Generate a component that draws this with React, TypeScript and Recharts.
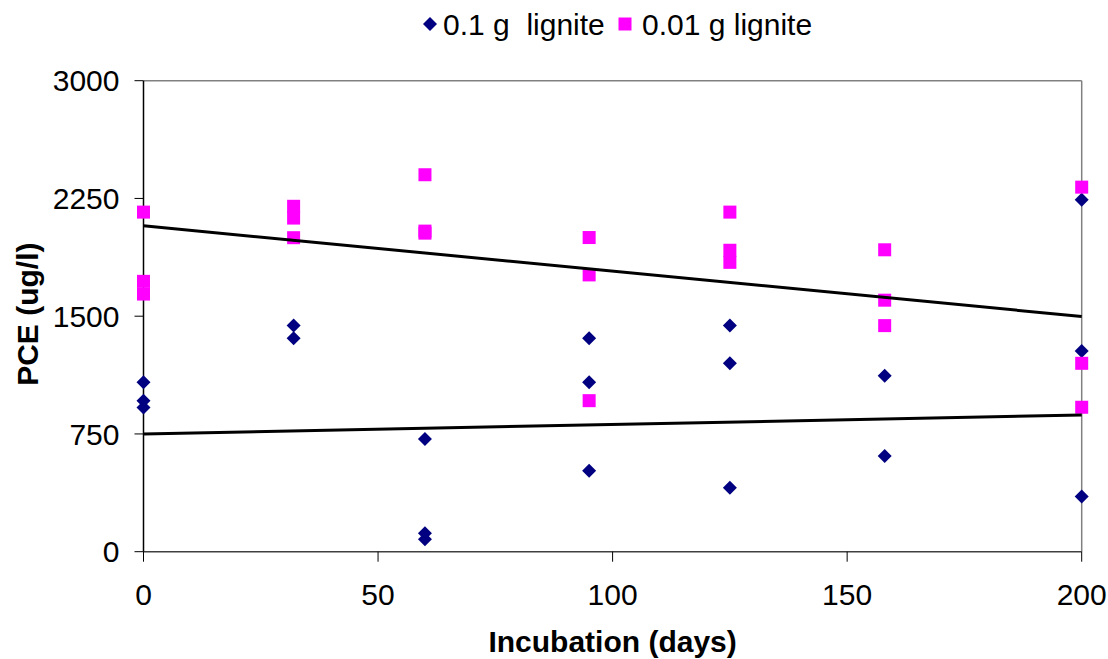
import React from "react";
import { ScatterChart, Scatter, XAxis, YAxis, ReferenceLine, Label } from "recharts";

// 0.1 g lignite
const days1 = [0, 0, 0, 32, 32, 60, 60, 60, 95, 95, 95, 125, 125, 125, 158, 158, 200, 200, 200];
const pce1 = [1080, 962, 918, 1440, 1360, 718, 117, 79, 1360, 1080, 516, 1440, 1200, 408, 1120, 610, 2241, 1279, 351];

// 0.01 g lignite
const days2 = [0, 0, 0, 32, 32, 32, 60, 60, 60, 95, 95, 95, 125, 125, 125, 158, 158, 158, 200, 200, 200];
const pce2 = [2163, 1722, 1641, 2200, 2125, 2000, 2401, 2042, 2029, 2001, 1763, 962, 2163, 1920, 1843, 1923, 1602, 1440, 2322, 1200, 920];

// linear trend lines (end points)
const trendDays = [0, 200];
const trend1 = [750, 871];
const trend2 = [2076, 1498];

const xTicks = [0, 50, 100, 150, 200];
const yTicks = [0, 750, 1500, 2250, 3000];

const NAVY = "#000080";
const PINK = "#FF00FF";
const FONT = "'Liberation Sans', Arial, sans-serif";

const toPoints = (xs: number[], ys: number[]) => xs.map((x, i) => ({ day: x, pce: ys[i] }));

const Diamond = (props: any) => {
    const { cx, cy } = props;
    const r = 7;
    return <polygon points={`${cx},${cy - r} ${cx + r},${cy} ${cx},${cy + r} ${cx - r},${cy}`} fill={NAVY} />;
};

const Square = (props: any) => {
    const { cx, cy } = props;
    return <rect x={cx - 6.5} y={cy - 6.5} width={13} height={13} fill={PINK} />;
};

const NoDot = () => <g />;

export default function App() {
    return (
        <div style={{ position: "relative", width: 1108, height: 659, fontFamily: FONT }}>
            <style>{`body { margin: 0; overflow: hidden; }`}</style>
            <svg width={1108} height={60} style={{ position: "absolute", left: 0, top: 0 }}>
                <polygon points="423,24 430,17 437,24 430,31" fill={NAVY} />
                <text x={443} y={35} fontSize={30} fontFamily={FONT} fill="#000" style={{ whiteSpace: "pre" }}>
                    {"0.1 g  lignite"}
                </text>
                <rect x={618.5} y={17.5} width={13} height={13} fill={PINK} />
                <text x={642} y={35} fontSize={30} fontFamily={FONT} fill="#000">
                    0.01 g lignite
                </text>
            </svg>
            <ScatterChart width={1108} height={659} margin={{ top: 80.7, right: 26.3, bottom: 0, left: 0 }}>
                <XAxis
                    type="number"
                    dataKey="day"
                    domain={[0, 200]}
                    ticks={xTicks}
                    height={107.3}
                    tickSize={10}
                    tickMargin={22}
                    axisLine={{ stroke: "#404040", strokeWidth: 1.5 }}
                    tickLine={{ stroke: "#000" }}
                    tick={{ fill: "#000", fontSize: 30, fontFamily: FONT }}
                >
                    <Label
                        content={(p: any) => {
                            const vb = p.viewBox;
                            return (
                                <text x={vb.x + vb.width / 2} y={vb.y + vb.height - 7} textAnchor="middle" fontSize={30} fontWeight="bold" fontFamily={FONT} fill="#000">
                                    Incubation (days)
                                </text>
                            );
                        }}
                    />
                </XAxis>
                <YAxis
                    type="number"
                    dataKey="pce"
                    domain={[0, 3000]}
                    ticks={yTicks}
                    width={143.5}
                    tickSize={9}
                    tickMargin={15}
                    axisLine={{ stroke: "#000", strokeWidth: 1.5 }}
                    tickLine={{ stroke: "#000" }}
                    tick={{ fill: "#000", fontSize: 30, fontFamily: FONT }}
                >
                    <Label
                        content={(p: any) => {
                            const vb = p.viewBox;
                            const cx = vb.x + 28;
                            const cy = vb.y + vb.height / 2 - 2;
                            return (
                                <text x={cx} y={cy} transform={`rotate(-90, ${cx}, ${cy})`} textAnchor="middle" dominantBaseline="central" fontSize={30} fontWeight="bold" fontFamily={FONT} fill="#000">
                                    PCE (ug/l)
                                </text>
                            );
                        }}
                    />
                </YAxis>
                <ReferenceLine y={3000} stroke="#808080" strokeWidth={1.5} />
                <ReferenceLine x={200} stroke="#808080" strokeWidth={1.5} />
                <Scatter name="0.1 g  lignite" data={toPoints(days1, pce1)} shape={Diamond} isAnimationActive={false} />
                <Scatter name="0.01 g lignite" data={toPoints(days2, pce2)} shape={Square} isAnimationActive={false} />
                <Scatter data={toPoints(trendDays, trend1)} line={{ stroke: "#000", strokeWidth: 3 }} shape={NoDot} legendType="none" isAnimationActive={false} />
                <Scatter data={toPoints(trendDays, trend2)} line={{ stroke: "#000", strokeWidth: 3 }} shape={NoDot} legendType="none" isAnimationActive={false} />
            </ScatterChart>
        </div>
    );
}
